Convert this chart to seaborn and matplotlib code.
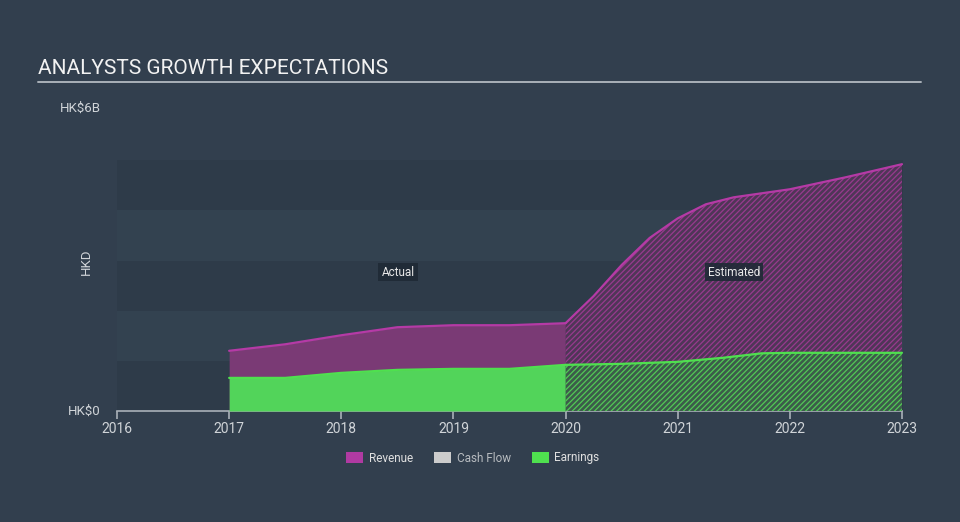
import matplotlib
matplotlib.use("Agg")
import matplotlib.pyplot as plt
import seaborn as sns
import pandas as pd
import numpy as np
from matplotlib.patches import Patch

sns.set_theme(style="dark")
plt.rcParams['font.family'] = ['Roboto', 'DejaVu Sans']
plt.rcParams['hatch.linewidth'] = 0.9

# ---- data (HK$ billions) ----
rev_years_act = [2017.0, 2017.5, 2018.0, 2018.5, 2019.0, 2019.5, 2020.0]
rev_vals_act = [1.20, 1.33, 1.51, 1.67, 1.71, 1.71, 1.75]
rev_years_est = [2020.0, 2020.25, 2020.5, 2020.75, 2021.0, 2021.25, 2021.5,
                 2021.75, 2022.0, 2022.5, 2023.0]
rev_vals_est = [1.75, 2.29, 2.91, 3.45, 3.84, 4.12, 4.26, 4.34, 4.42, 4.66, 4.92]

earn_years_act = [2017.0, 2017.5, 2018.0, 2018.5, 2019.0, 2019.5, 2020.0]
earn_vals_act = [0.66, 0.66, 0.76, 0.82, 0.84, 0.84, 0.92]
earn_years_est = [2020.0, 2020.5, 2021.0, 2021.4, 2021.75, 2022.0, 2023.0]
earn_vals_est = [0.92, 0.94, 0.98, 1.06, 1.15, 1.16, 1.16]

x_ticks = [2016, 2017, 2018, 2019, 2020, 2021, 2022, 2023]
legend_labels = ["Revenue", "Cash Flow", "Earnings"]

# ---- styling ----
BG = "#323f4e"
BAND_DARK = "#2e3b49"
BAND_LIGHT = "#334250"
REV_LINE = "#b53aa6"
REV_FILL = "#7a3a75"
REV_EST_FACE = "#4f3657"
REV_EST_HATCH = "#983a8e"
EARN_LINE = "#4fe04f"
EARN_FILL = "#52d45a"
EARN_EST_FACE = "#3c5c4a"
EARN_EST_HATCH = "#52c955"
TXT = "#d0d4d8"

W, H = 960, 522
fig = plt.figure(figsize=(W / 100, H / 100), dpi=100, facecolor=BG)

left_px, right_px, bottom_px, top_px = 117, 903, 411, 110
ax = fig.add_axes([left_px / W, 1 - bottom_px / H,
                   (right_px - left_px) / W, (bottom_px - top_px) / H])
ax.set_facecolor(BG)
px_per_year = (902 - 117) / 7.0
xmax = 2016 + (right_px - left_px) / px_per_year
ax.set_xlim(2016, xmax)
ax.set_ylim(0, 6)

# bands
for i, (lo, hi) in enumerate([(0, 1), (1, 2), (2, 3), (3, 4), (4, 5)]):
    ax.axhspan(lo, hi, color=BAND_DARK if i % 2 == 0 else BAND_LIGHT, lw=0, zorder=0)

df_ra = pd.DataFrame({"year": rev_years_act, "value": rev_vals_act})
df_re = pd.DataFrame({"year": rev_years_est, "value": rev_vals_est})
df_ea = pd.DataFrame({"year": earn_years_act, "value": earn_vals_act})
df_ee = pd.DataFrame({"year": earn_years_est, "value": earn_vals_est})

# revenue actual
ax.fill_between(df_ra["year"], df_ra["value"], color=REV_FILL, lw=0, zorder=2)
# revenue estimated hatched
ax.fill_between(df_re["year"], df_re["value"], facecolor=REV_EST_FACE,
                edgecolor=REV_EST_HATCH, hatch="//////", lw=0, zorder=2)
# earnings
ax.fill_between(df_ea["year"], df_ea["value"], color=EARN_FILL, lw=0, zorder=3)
ax.fill_between(df_ee["year"], df_ee["value"], facecolor=EARN_EST_FACE,
                edgecolor=EARN_EST_HATCH, hatch="//////", lw=0, zorder=3)

sns.lineplot(data=df_ra, x="year", y="value", ax=ax, color=REV_LINE, lw=1.6, zorder=4)
sns.lineplot(data=df_re, x="year", y="value", ax=ax, color=REV_LINE, lw=1.6, zorder=4)
sns.lineplot(data=df_ea, x="year", y="value", ax=ax, color=EARN_LINE, lw=1.6, zorder=5)
sns.lineplot(data=df_ee, x="year", y="value", ax=ax, color=EARN_LINE, lw=1.6, zorder=5)

# axes styling
for s in ["top", "right", "left"]:
    ax.spines[s].set_visible(False)
ax.spines["bottom"].set_visible(True)
ax.spines["bottom"].set_color("#a9b0b8")
ax.spines["bottom"].set_linewidth(1.2)
ax.spines["bottom"].set_bounds(2016, 2023)
ax.set_xticks(x_ticks)
ax.set_xticklabels([str(t) for t in x_ticks])
ax.tick_params(axis="x", colors="#a9b0b8", length=6, width=1.2, pad=2,
               labelcolor=TXT, labelsize=10, direction="out", bottom=True)
ax.set_yticks([])
ax.set_xlabel("")
ax.set_ylabel("")
ax.grid(False)

# labels in plot
box = dict(boxstyle="square,pad=0.25", facecolor="#1f2a36", edgecolor="none", alpha=0.9)
ax.text(2016 + (398 - 117) / px_per_year, 6 * (411 - 272) / 301, "Actual",
        color="#e8e8e8", fontsize=8.5, ha="center", va="center", bbox=box, zorder=10)
ax.text(2016 + (734 - 117) / px_per_year, 6 * (411 - 272) / 301, "Estimated",
        color="#e8e8e8", fontsize=8.5, ha="center", va="center", bbox=box, zorder=10)

# title and underline
fig.text(38 / W, 1 - 69 / H, "ANALYSTS GROWTH EXPECTATIONS", color="#f2f2f2",
         fontsize=15, ha="left", va="center")
fig.add_artist(plt.Line2D([38 / W, 921 / W], [1 - 82 / H, 1 - 82 / H],
                          color="#aab1b8", lw=1.4))

fig.text(60 / W, 1 - 108 / H, "HK$6B", color=TXT, fontsize=9.5, ha="left", va="center")
fig.text(68 / W, 1 - 411 / H, "HK$0", color=TXT, fontsize=9.5, ha="left", va="center")
fig.text(86 / W, 1 - 262 / H, "HKD", color=TXT, fontsize=9.5, ha="center", va="center",
         rotation=90)

# legend
handles = [Patch(facecolor="#b03aa2", edgecolor="none"),
           Patch(facecolor="#cccccc", edgecolor="none"),
           Patch(facecolor="#4fe04f", edgecolor="none")]
leg = fig.legend(handles, legend_labels, loc="center", bbox_to_anchor=(473 / W, 1 - 458 / H),
                 ncol=3, frameon=False, fontsize=8.5, handlelength=1.4, handleheight=1.0,
                 columnspacing=1.8, handletextpad=0.5)
for t, c in zip(leg.get_texts(), ["#e0e0e0", "#b8bcc0", "#e0e0e0"]):
    t.set_color(c)

fig.savefig("out.png", dpi=100, facecolor=BG)
